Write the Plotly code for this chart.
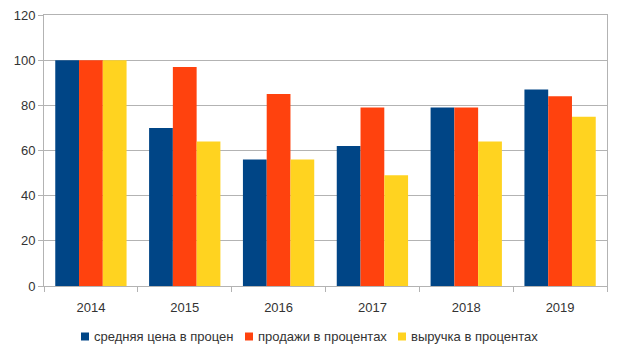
import plotly.graph_objects as go

years = ["2014", "2015", "2016", "2017", "2018", "2019"]
avg_price = [100, 70, 56, 62, 79, 87]
sales = [100, 97, 85, 79, 79, 84]
revenue = [100, 64, 56, 49, 64, 75]

names = ["средняя цена в процен", "продажи в процентах", "выручка в процентах"]
colors = ["#004586", "#ff420e", "#ffd320"]
y_ticks = [0, 20, 40, 60, 80, 100, 120]

W, H = 620, 348
ML, MR, MT, MB = 44, 13, 15, 62
PW, PH = W - ML - MR, H - MT - MB


def px_x(p):
    return (p - ML) / PW


def px_y(p):
    return (H - MB - p) / PH


fig = go.Figure()
for name, vals, col in zip(names, [avg_price, sales, revenue], colors):
    fig.add_trace(go.Bar(x=years, y=vals, name=name, marker=dict(color=col, line=dict(width=0))))

# legend row beneath the plot: colour square + label
legend_x = [81, 245, 398]
legend_y = 336.5
for x0, name, col in zip(legend_x, names, colors):
    fig.add_shape(type="rect", xref="paper", yref="paper",
                  x0=px_x(x0), x1=px_x(x0 + 8),
                  y0=px_y(legend_y + 4), y1=px_y(legend_y - 4),
                  fillcolor=col, line=dict(width=0))
    fig.add_annotation(xref="paper", yref="paper", x=px_x(x0 + 11), y=px_y(legend_y),
                       xanchor="left", yanchor="middle", text=name, showarrow=False,
                       font=dict(size=13, color="#333333"))

fig.update_layout(
    width=W, height=H,
    margin=dict(l=ML, r=MR, t=MT, b=MB, autoexpand=False),
    paper_bgcolor="white", plot_bgcolor="white",
    barmode="group", bargap=0.24, bargroupgap=0,
    font=dict(family="Liberation Sans", size=13, color="#333333"),
    showlegend=False,
    xaxis=dict(type="category", showgrid=False, showline=True, linecolor="#b3b3b3",
               mirror=True, ticks="outside", tickson="boundaries", ticklen=5,
               ticklabelstandoff=9,
               tickcolor="#b3b3b3", tickfont=dict(size=13, color="#333333")),
    yaxis=dict(range=[0, 120], tickvals=y_ticks, showgrid=True, gridcolor="#b3b3b3",
               showline=True, linecolor="#b3b3b3", mirror=True, ticks="outside",
               ticklen=5, tickcolor="#b3b3b3", zeroline=False,
               tickfont=dict(size=13, color="#333333")),
)

fig.write_html("out.html")
